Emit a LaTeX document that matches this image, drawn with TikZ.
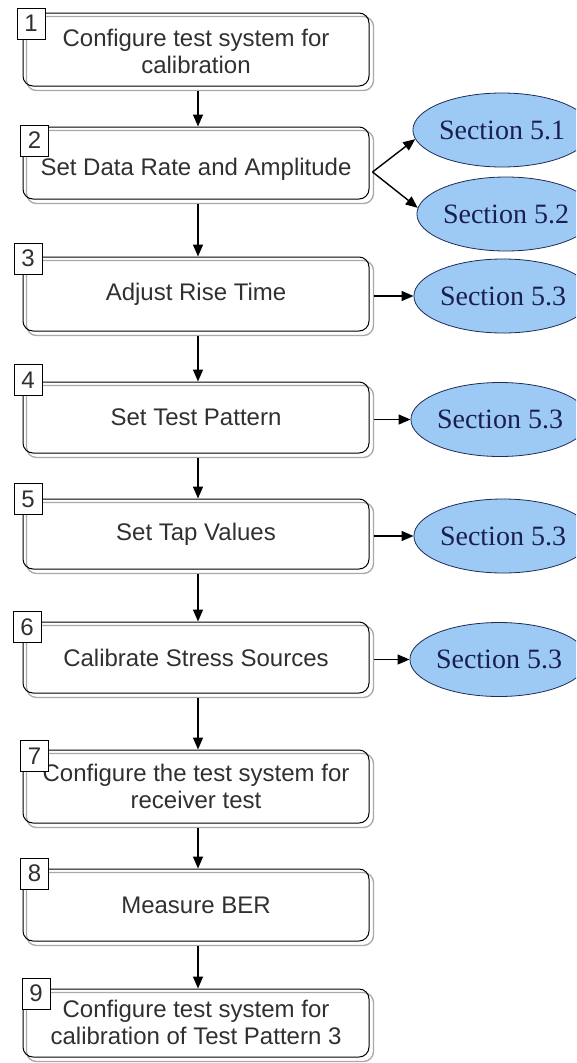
\documentclass[tikz,border=0pt]{standalone}
\usepackage{fontspec}
\setmainfont{Liberation Sans}
\newfontfamily\secfont{Liberation Serif}
\usetikzlibrary{arrows.meta,shapes.geometric,backgrounds}
\definecolor{secfill}{HTML}{9DC9F5}
\definecolor{secline}{HTML}{1F2A55}
\definecolor{sectext}{HTML}{1A1F4D}
\definecolor{boxtext}{HTML}{303030}
\definecolor{shadowgray}{HTML}{A8A8A8}
% lower a box's text without changing the box
\newcommand{\lowertext}[2]{\raisebox{-#1}[\height][\depth]{\begin{tabular}{@{}c@{}}#2\end{tabular}}}
\begin{document}
\begin{tikzpicture}[x=1pt,y=-1pt,
  stepbox/.style={draw=black, line width=1pt, rounded corners=10pt,
    minimum width=346pt, inner sep=0pt, align=center,
    font=\fontsize{24}{27}\selectfont, text=boxtext},
  numbox/.style={draw=black, line width=1pt, fill=white,
    minimum width=28pt, minimum height=31pt, inner sep=0pt,
    font=\fontsize{24}{24}\selectfont, text=boxtext},
  secnode/.style={ellipse, draw=secline, fill=secfill, line width=0.8pt,
    minimum width=160pt, minimum height=74pt, inner sep=0pt,
    font=\secfont\fontsize{28}{28}\selectfont, text=sectext},
  flow/.style={line width=1.4pt, -{Triangle[length=12pt,width=10pt]}},
  outline/.style={draw=shadowgray, line width=1.3pt, rounded corners=10pt}]
\useasboundingbox (0,0) rectangle (576,1063);
\clip (0,0) rectangle (576,1063);

% process steps
\node[stepbox, minimum height=73pt] (b1) at (196,49.5) {\lowertext{5pt}{Configure test system for\\calibration}};
\node[stepbox, minimum height=72pt] (b2) at (196,163) {\lowertext{7pt}{Set Data Rate and Amplitude}};
\node[stepbox, minimum height=74pt] (b3) at (196,294) {Adjust Rise Time};
\node[stepbox, minimum height=71pt] (b4) at (196,417.5) {Set Test Pattern};
\node[stepbox, minimum height=70pt] (b5) at (196,534) {Set Tap Values};
\node[stepbox, minimum height=71pt] (b6) at (196,657.5) {Calibrate Stress Sources};
\node[stepbox, minimum height=73pt] (b7) at (196,786.5) {Configure the test system for\\receiver test};
\node[stepbox, minimum height=72pt] (b8) at (196,905) {Measure BER};
\node[stepbox, minimum height=68pt] (b9) at (196,1023) {\lowertext{3pt}{Configure test system for\\calibration of Test Pattern 3}};

% offset grey outline behind each step
\begin{pgfonlayer}{background}
\foreach \b in {b1,b2,b3,b4,b5,b6,b7,b8,b9}
  \draw[outline] ([shift={(4pt,-4pt)}]\b.north west) rectangle ([shift={(4pt,-4pt)}]\b.south east);
\end{pgfonlayer}

% section references
\node[secnode] (e1) at (502,130) {Section 5.1};
\node[secnode] (e2) at (506,214) {Section 5.2};
\node[secnode] (e3) at (503,296) {Section 5.3};
\node[secnode] (e4) at (500,419.5) {Section 5.3};
\node[secnode] (e5) at (503,536) {Section 5.3};
\node[secnode] (e6) at (499,659.5) {Section 5.3};

% main flow
\foreach \a/\c in {b1/b2,b2/b3,b3/b4,b4/b5,b5/b6,b6/b7,b7/b8,b8/b9}
  \draw[flow] ([shift={(2pt,-4pt)}]\a.south) -- ([xshift=2pt]\c.north);

% branches to the sections
\coordinate (fork) at ([shift={(3pt,-9pt)}]b2.east);
\draw[flow] (fork) -- (e1.186);
\draw[flow] (fork) -- (e2.176);
\foreach \a/\c in {b3/e3,b4/e4,b5/e5,b6/e6}
  \draw[flow] ([shift={(4pt,-2pt)}]\a.east) -- (\c.west);

% step numbers
\node[numbox] (n1) at (31,23.5) {1};
\node[numbox] (n2) at (34.5,140.5) {2};
\node[numbox] (n3) at (28,258.5) {3};
\node[numbox] (n4) at (28,380) {4};
\node[numbox] (n5) at (28,499) {5};
\node[numbox] (n6) at (27,627) {6};
\node[numbox] (n7) at (34.5,756) {7};
\node[numbox] (n8) at (34.5,873.5) {8};
\node[numbox] (n9) at (36,993.5) {9};
\end{tikzpicture}
\end{document}
